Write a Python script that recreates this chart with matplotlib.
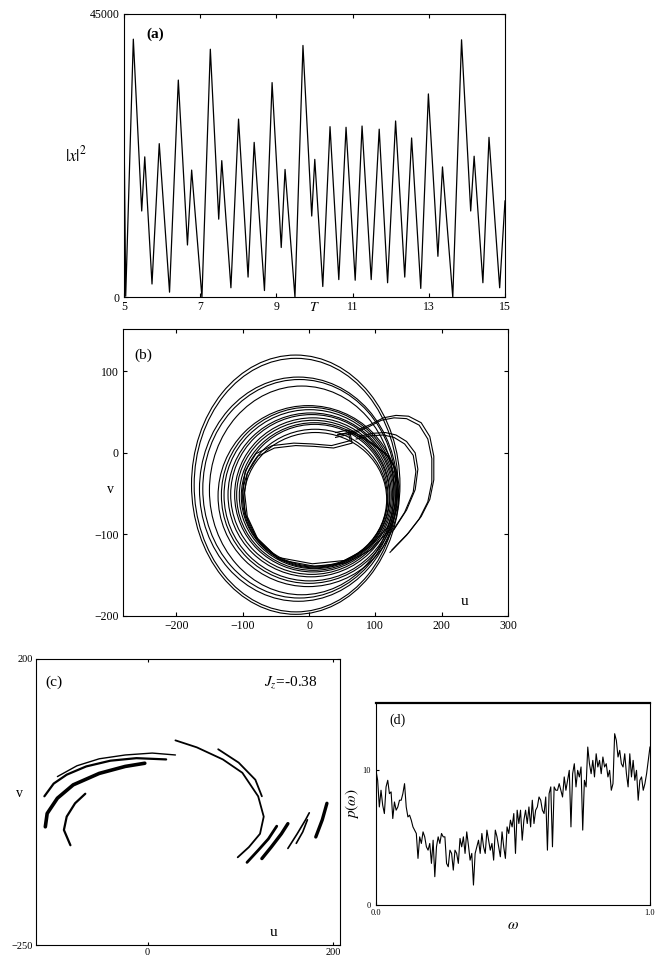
import numpy as np
import matplotlib.pyplot as plt
from matplotlib.patches import Ellipse

plt.rcParams['font.family'] = ['Liberation Serif', 'DejaVu Serif']
plt.rcParams['mathtext.fontset'] = 'stix'
plt.rcParams['xtick.direction'] = 'in'
plt.rcParams['ytick.direction'] = 'in'

# (a) |x|^2 against T : peaks and troughs
t_a = [5.00, 5.05, 5.25, 5.47, 5.55, 5.74, 5.93, 6.20, 6.43, 6.67, 6.78, 7.05,
       7.27, 7.49, 7.57, 7.81, 8.01, 8.26, 8.42, 8.69, 8.89, 9.13, 9.23, 9.49,
       9.70, 9.93, 10.01, 10.22, 10.41, 10.64, 10.83, 11.07, 11.25, 11.49, 11.70,
       11.92, 12.13, 12.37, 12.55, 12.79, 12.99, 13.24, 13.36, 13.63, 13.86,
       14.10, 14.19, 14.42, 14.58, 14.86, 15.00]
x2_a = [31000, 160, 41000, 13700, 22300, 2100, 24400, 800, 34500, 8300, 20200, 0,
        39400, 12400, 21700, 1500, 28300, 3200, 24600, 1060, 34100, 7900, 20300, 0,
        40000, 12900, 21900, 1700, 27100, 2800, 27000, 2700, 27200, 2800, 26700,
        2300, 28000, 3200, 25300, 1400, 32300, 6500, 20700, 0, 40900,
        13700, 22400, 2300, 25400, 1500, 15300]

# (b) nested loops of the (u, v) orbit: extents of each loop
loop_left = [-177, -173, -165, -160, -150, -137, -132, -128, -122, -118,
             -112, -109, -105, -102, -100, -98]
loop_right = [137, 134, 133, 131, 128, 135, 132, 130, 128, 126,
              124, 122, 121, 119, 118, 117]
loop_bottom = [-198, -195, -182, -178, -174, -164, -160, -157, -152, -149,
               -146, -144, -142, -141, -140, -139]
loop_top = [120, 116, 93, 90, 82, 58, 56, 53, 49, 47, 43, 40, 37, 35, 29, 25]

# right-hand lobes of the orbit
lobe_outer_u = [43, 70, 93, 112, 131, 150, 169, 182, 188, 188, 182, 169, 150, 125]
lobe_outer_v = [22, 27, 35, 43, 46, 45, 37, 20, -4, -33, -57, -78, -98, -119]
lobe_inner_u = [74, 96, 115, 131, 147, 160, 164, 160, 147, 128]
lobe_inner_v = [20, 24, 25, 22, 14, 0, -20, -45, -70, -94]

# innermost loop with the flat top
inner_u = [62, 65, 37, 8, -20, -52, -77, -93, -97, -93, -77, -45, 8, 56, 93,
           122, 134, 136, 131, 119, 100, 81, 62, 43]
inner_v = [24, 12, 6, 8, 9, 6, -4, -25, -49, -78, -106, -131, -139, -135, -119,
           -94, -65, -41, -20, -4, 8, 18, 25, 22]

# (c) Poincare section, J_z = -0.38 : arcs (u list, v list, line width)
arcs_c = [
    ([-97, -76, -52, -24, 5, 30], [15, 32, 43, 49, 52, 49], 1.0),
    ([-111, -101, -87, -66, -40, -12, 20], [-16, 4, 18, 31, 40, 44, 42], 1.6),
    ([-110, -108, -97, -80, -52, -24, -3], [-64, -43, -19, 2, 20, 31, 36], 2.6),
    ([-83, -90, -87, -78, -67], [-93, -69, -48, -27, -12], 1.6),
    ([30, 53, 81, 102, 119, 125, 121, 109, 97], [72, 61, 42, 21, -16, -48, -75, -96, -112], 1.3),
    ([76, 98, 116, 123], [58, 37, 10, -16], 1.3),
    ([107, 119, 130, 139], [-120, -101, -83, -63], 2.0),
    ([123, 133, 144, 151], [-114, -96, -75, -59], 2.4),
    ([151, 161, 170, 174], [-98, -75, -53, -42], 1.2),
    ([160, 167, 172], [-90, -72, -53], 1.2),
    ([181, 188, 193], [-80, -53, -27], 2.4),
]

# (d) power spectrum p(omega)
p_d = [10.0, 9.26, 7.28, 8.52, 7.41, 6.79, 8.77, 9.26, 8.27, 8.40, 6.42, 7.65, 7.04,
       7.28, 7.78, 7.78, 8.27, 9.01, 7.28, 6.54, 6.67, 6.30, 5.80, 5.56, 5.31, 3.46,
       5.06, 4.57, 5.43, 5.06, 4.32, 4.07, 4.57, 3.09, 4.81, 2.10, 4.32, 5.06, 4.57,
       5.31, 5.06, 5.06, 3.09, 2.84, 4.07, 3.83, 2.59, 4.07, 3.83, 3.09, 4.94, 4.32,
       5.06, 3.83, 5.43, 4.44, 3.33, 3.83, 1.48, 3.83, 4.32, 4.81, 3.83, 5.31, 4.32,
       3.83, 5.56, 4.81, 4.07, 4.57, 3.33, 5.56, 5.06, 4.32, 3.58, 5.43, 4.32, 3.46,
       5.80, 5.31, 6.30, 5.80, 6.79, 3.83, 7.04, 6.05, 7.04, 4.81, 6.30, 7.04, 6.05,
       7.28, 5.80, 7.78, 6.05, 7.04, 7.28, 8.02, 7.78, 7.04, 6.79, 8.02, 4.07, 8.27,
       8.77, 4.32, 8.77, 8.52, 8.52, 9.01, 8.52, 8.02, 9.51, 8.52, 9.26, 10.0, 5.80,
       9.75, 10.49, 8.77, 10.0, 9.51, 10.25, 5.56, 9.26, 8.77, 11.73, 10.49, 9.75,
       10.74, 9.51, 11.23, 10.25, 10.74, 9.75, 10.99, 10.25, 10.49, 9.51, 10.0, 8.52,
       9.01, 12.72, 12.22, 10.99, 11.48, 10.49, 10.25, 11.23, 9.75, 8.77, 11.23, 9.51,
       10.74, 9.26, 10.0, 7.78, 9.26, 9.51, 8.52, 9.01, 9.75, 10.74, 11.73]
w_d = np.linspace(0.0, 1.0, len(p_d))

fig = plt.figure(figsize=(6.55, 9.65), dpi=100)

# ---- (a)
ax = fig.add_axes([0.189, 0.692, 0.582, 0.2935])
ax.plot(t_a, x2_a, color='black', lw=0.9)
ax.set_xlim(5, 15)
ax.set_ylim(0, 45000)
ax.set_xticks([5, 7, 9, 11, 13, 15])
ax.set_yticks([0, 45000])
ax.tick_params(labelsize=8.5, length=3, top=True, right=True, pad=3)
ax.set_ylabel(r'$|x|^2$', rotation=0, fontsize=12, labelpad=10, va='center')
ax.annotate(r'$T$', xy=(10, -0.035), xycoords=('data', 'axes fraction'),
            ha='center', va='center', fontsize=10)
ax.text(0.06, 0.93, '(a)', transform=ax.transAxes, fontsize=11, weight='bold', va='center')

# ---- (b)
ax = fig.add_axes([0.188, 0.3617, 0.5878, 0.2974])
for l, r, b, t in zip(loop_left, loop_right, loop_bottom, loop_top):
    ax.add_patch(Ellipse(((l + r) / 2, (b + t) / 2), r - l, t - b,
                         fill=False, color='black', lw=0.8))
for du in (0, -3):
    ax.plot(np.add(lobe_outer_u, du), np.add(lobe_outer_v, du), color='black', lw=0.8)
    ax.plot(np.add(lobe_inner_u, du), np.add(lobe_inner_v, du), color='black', lw=0.8)
    ax.plot(np.add(inner_u, du), np.add(inner_v, -du), color='black', lw=0.8)
ax.set_xlim(-280, 300)
ax.set_ylim(-200, 152)
ax.set_xticks([-200, -100, 0, 100, 200, 300])
ax.set_yticks([-200, -100, 0, 100])
ax.tick_params(labelsize=8.5, length=3, top=True, right=True, pad=3)
ax.text(-0.034, 0.44, 'v', transform=ax.transAxes, fontsize=10, ha='center', va='center')
ax.text(0.888, 0.05, 'u', transform=ax.transAxes, fontsize=11, ha='center', va='center')
ax.text(0.03, 0.91, '(b)', transform=ax.transAxes, fontsize=11, va='center')

# ---- (c)
ax = fig.add_axes([0.055, 0.0207, 0.464, 0.2964])
for us, vs, lw in arcs_c:
    ax.plot(us, vs, color='black', lw=lw, solid_capstyle='round')
ax.set_xlim(-120, 207)
ax.set_ylim(-250, 200)
ax.set_xticks([0, 200])
ax.set_yticks([-250, 200])
ax.tick_params(labelsize=7.5, length=2.5, top=True, right=True, pad=2)
ax.text(-0.053, 0.53, 'v', transform=ax.transAxes, fontsize=10, ha='center', va='center')
ax.text(0.78, 0.045, 'u', transform=ax.transAxes, fontsize=11, ha='center', va='center')
ax.text(0.03, 0.92, '(c)', transform=ax.transAxes, fontsize=11, va='center')
ax.text(0.925, 0.92, r'$J_z$=-0.38', transform=ax.transAxes, fontsize=11,
        ha='right', va='center')

# ---- (d)
ax = fig.add_axes([0.574, 0.0622, 0.4183, 0.2093])
ax.plot(w_d, p_d, color='black', lw=0.8)
ax.set_xlim(0, 1)
ax.set_ylim(0, 15)
ax.set_xticks([0, 1])
ax.set_xticklabels(['0.0', '1.0'])
ax.set_yticks([0, 10])
ax.tick_params(axis='x', labelsize=6, length=2, pad=3)
ax.tick_params(axis='y', labelsize=6, length=2, pad=4)
ax.spines['top'].set_linewidth(1.6)
ax.set_xlabel(r'$\omega$', fontsize=11, labelpad=1)
ax.set_ylabel(r'$p(\omega)$', fontsize=11, labelpad=1)
ax.text(0.05, 0.916, '(d)', transform=ax.transAxes, fontsize=10, va='center')

fig.savefig('out.png', dpi=100)
